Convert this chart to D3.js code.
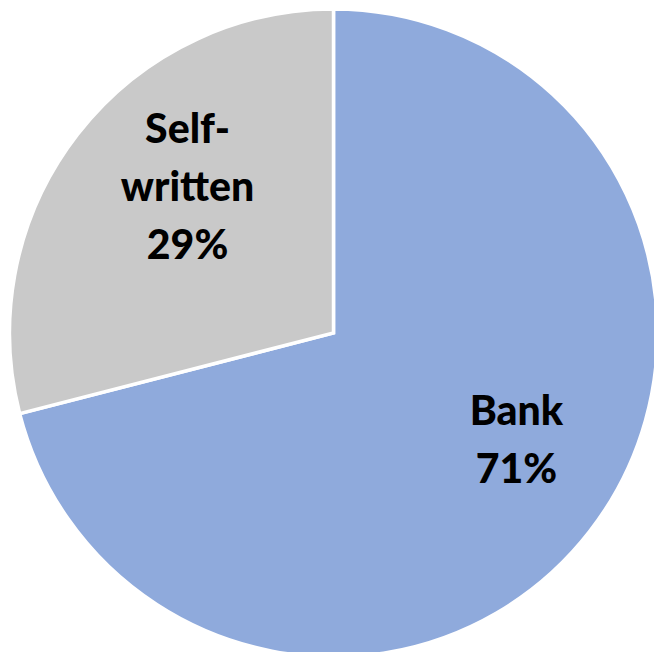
<!DOCTYPE html>
<html>
<head>
<meta charset="utf-8">
<script src="https://cdn.jsdelivr.net/npm/d3@7"></script>
<style>
  body { margin: 0; background: #fff; }
  svg { display: block; }
</style>
</head>
<body>
<div id="chart"></div>
<script>
// Data
const categories = ["Bank", "Self-written"];
const shares = [71, 29];
const labelLines = [["Bank", "71%"], ["Self-", "written", "29%"]];
const colors = ["#8FAADC", "#C9C9C9"];

const width = 654, height = 652;
const cx = 333.5, cy = 333, radius = 324;

const svg = d3.select("#chart")
    .append("svg")
    .attr("width", width)
    .attr("height", height);

const g = svg.append("g")
    .attr("transform", `translate(${cx},${cy})`);

const pie = d3.pie().sort(null).value(d => d.value);
const arcs = pie(categories.map((c, i) => ({ name: c, value: shares[i], lines: labelLines[i] })));

const arc = d3.arc().innerRadius(0).outerRadius(radius);
const labelArc = d3.arc().innerRadius(210).outerRadius(210);

// slices
g.selectAll("path.slice")
    .data(arcs)
    .enter()
    .append("path")
    .attr("class", "slice")
    .attr("d", arc)
    .attr("fill", (d, i) => colors[i])
    .attr("stroke", "#fff")
    .attr("stroke-width", 3.5)
    .attr("stroke-linejoin", "miter");

// labels (nudged like the spreadsheet's best-fit placement)
const nudges = [[17, -22], [20, -17]];
const lineHeight = 58;

arcs.forEach((d, i) => {
    const [x, y] = labelArc.centroid(d);
    const n = d.data.lines.length;
    const text = g.append("text")
        .attr("text-anchor", "middle")
        .attr("font-family", "Lato, 'Open Sans', sans-serif")
        .attr("font-weight", 900)
        .attr("font-size", 41)
        .attr("fill", "#000");
    d.data.lines.forEach((line, j) => {
        text.append("tspan")
            .attr("x", x + nudges[i][0])
            .attr("y", y + nudges[i][1] + (j - (n - 1) / 2) * lineHeight + 14)
            .text(line);
    });
});
</script>
</body>
</html>
